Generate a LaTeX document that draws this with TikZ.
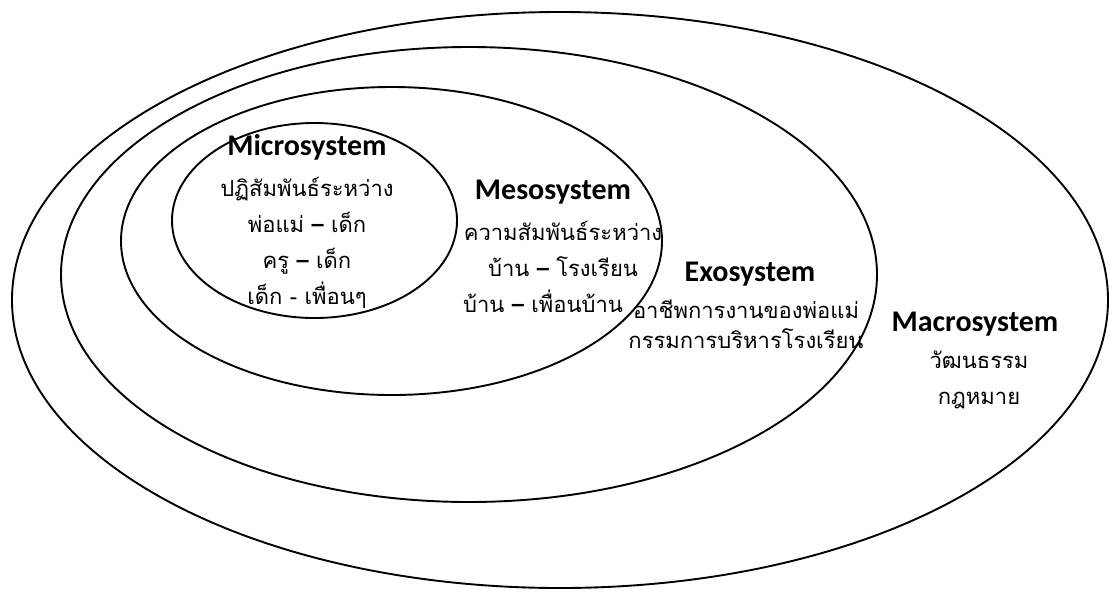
\documentclass[tikz,border=0pt]{standalone}
\usepackage{fontspec}
\setmainfont{Carlito}
\newfontfamily\thaifont[Script=Thai]{Loma}
\usetikzlibrary{shapes.geometric}

\begin{document}
\begin{tikzpicture}[x=1pt,y=-1pt,
  ring/.style={draw, ellipse, line width=1.9pt, inner sep=0pt},
  sysname/.style={font=\bfseries\fontsize{30}{32}\selectfont},
  systext/.style={align=center, font=\thaifont\fontsize{22}{36}\selectfont}]
\useasboundingbox (0,0) rectangle (1110,592);
% the four systems, outside in
\node[ring, minimum width=1096, minimum height=576] (macro) at (560,300) {};
\node[ring, minimum width=816, minimum height=455] (exo) at (469,274.5) {};
\node[ring, minimum width=541, minimum height=308] (meso) at (391.5,241) {};
\node[ring, minimum width=285, minimum height=195] (micro) at (314.5,220.5) {};
% labels
\node[sysname] (microname) at (307,147) {Microsystem};
\node[systext] (microtext) at (307,243) {ปฏิสัมพันธ์ระหว่าง\\พ่อแม่ \textbf{–} เด็ก\\ครู \textbf{–} เด็ก\\เด็ก - เพื่อนๆ};
\node[sysname] (mesoname) at (553,192) {Mesosystem};
\node[systext] (mesotext) at (563,249) {ความสัมพันธ์ระหว่าง\\บ้าน \textbf{–} โรงเรียน};
\node[systext] (mesohome) at (543,301) {บ้าน \textbf{–} เพื่อนบ้าน};
\node[sysname] (exoname) at (750,274) {Exosystem};
\node[systext, font=\thaifont\fontsize{22}{30}\selectfont] (exotext) at (746,324) {อาชีพการงานของพ่อแม่\\กรรมการบริหารโรงเรียน};
\node[sysname] (macroname) at (975,324) {Macrosystem};
\node[systext] (macrotext) at (979,380) {วัฒนธรรม\\กฎหมาย};
\end{tikzpicture}
\end{document}
